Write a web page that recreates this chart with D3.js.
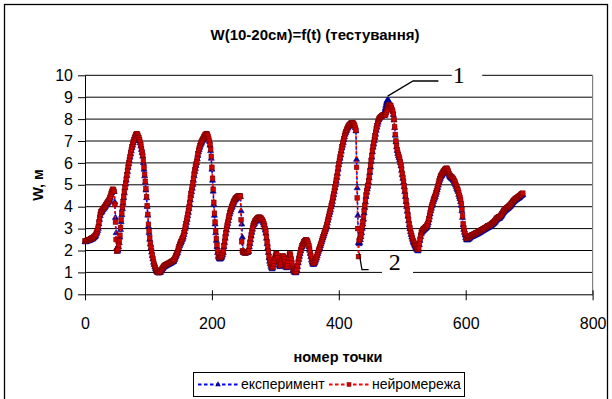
<!DOCTYPE html>
<html>
<head>
<meta charset="utf-8">
<script src="https://cdn.jsdelivr.net/npm/d3@7"></script>
<style>
  html, body { margin: 0; padding: 0; background: #fff; }
  svg { display: block; }
  text { font-family: "Liberation Sans", Arial, sans-serif; }
  text.callout { font-family: "Liberation Serif", "Times New Roman", serif; }
</style>
</head>
<body>
<div id="chart"></div>
<script>
// chart title / axis titles / legend
const title = 'W(10-20см)=f(t) (тестування)';
const xTitle = 'номер точки';
const yTitle = 'W, м';
const seriesNames = ['експеримент', 'нейромережа'];

// ticks
const xTicks = [0, 200, 400, 600, 800];
const yTicks = [0, 1, 2, 3, 4, 5, 6, 7, 8, 9, 10];

// експеримент (point 0..690)
const experiment = [
  2.40,2.38,2.42,2.41,2.43,2.43,2.45,2.44,2.47,2.48,
  2.50,2.52,2.51,2.55,2.58,2.60,2.63,2.67,2.75,2.82,
  2.90,3.00,3.20,3.40,3.58,3.70,3.74,3.78,3.85,3.88,
  3.92,3.95,4.00,4.05,4.10,4.12,4.16,4.20,4.25,4.32,
  4.40,4.52,4.62,4.70,4.72,4.74,4.68,4.20,3.50,2.80,
  2.10,1.95,2.00,2.15,2.35,2.60,2.95,3.30,3.62,3.90,
  4.15,4.40,4.62,4.85,5.02,5.20,5.40,5.60,5.78,5.95,
  6.10,6.25,6.40,6.55,6.68,6.80,6.90,7.00,7.08,7.15,
  7.20,7.25,7.28,7.25,7.18,7.10,7.00,6.90,6.76,6.60,
  6.45,6.30,6.00,5.70,5.40,5.10,4.75,4.40,4.00,3.60,
  3.10,2.80,2.50,2.28,2.10,1.92,1.75,1.60,1.45,1.35,
  1.25,1.17,1.10,1.04,1.00,0.98,0.97,0.97,0.98,1.00,
  1.05,1.10,1.15,1.18,1.22,1.25,1.27,1.28,1.30,1.32,
  1.33,1.35,1.36,1.38,1.40,1.41,1.43,1.45,1.46,1.48,
  1.50,1.56,1.63,1.70,1.77,1.84,1.90,2.00,2.10,2.20,
  2.27,2.33,2.40,2.47,2.53,2.60,2.72,2.85,3.00,3.13,
  3.27,3.40,3.57,3.73,3.90,4.10,4.30,4.50,4.67,4.83,
  5.00,5.20,5.40,5.60,5.73,5.87,6.00,6.17,6.33,6.50,
  6.60,6.70,6.80,6.87,6.93,7.00,7.05,7.10,7.15,7.20,
  7.25,7.30,7.30,7.26,7.20,7.10,6.98,6.80,6.55,6.20,
  5.70,5.20,4.70,4.10,3.60,3.20,2.80,2.45,2.15,1.90,
  1.72,1.65,1.60,1.60,1.62,1.66,1.72,1.80,1.90,2.15,
  2.35,2.55,2.75,2.92,3.08,3.22,3.35,3.50,3.65,3.75,
  3.85,3.93,4.00,4.08,4.15,4.22,4.28,4.32,4.35,4.38,
  4.40,4.42,4.44,4.45,4.46,4.45,3.80,3.20,2.60,2.00,
  1.90,1.88,1.88,1.87,1.88,1.90,1.90,1.92,1.95,2.15,
  2.30,2.48,2.65,2.82,2.96,3.08,3.16,3.22,3.28,3.32,
  3.36,3.40,3.43,3.45,3.46,3.47,3.46,3.44,3.40,3.36,
  3.32,3.25,3.15,3.05,2.92,2.78,2.55,2.30,2.10,1.90,
  1.65,1.50,1.38,1.27,1.20,1.15,1.20,1.32,1.45,1.58,
  1.70,1.78,1.80,1.72,1.60,1.45,1.32,1.25,1.30,1.42,
  1.55,1.65,1.70,1.66,1.55,1.42,1.30,1.22,1.20,1.30,
  1.45,1.60,1.75,1.80,1.72,1.55,1.38,1.22,1.10,1.04,
  1.00,0.98,0.97,1.00,1.10,1.25,1.42,1.58,1.72,1.85,
  1.97,2.07,2.15,2.22,2.28,2.33,2.37,2.40,2.42,2.43,
  2.40,2.35,2.27,2.15,2.00,1.85,1.70,1.55,1.45,1.38,
  1.35,1.38,1.43,1.50,1.57,1.65,1.75,1.85,1.95,2.03,
  2.10,2.20,2.28,2.38,2.47,2.56,2.65,2.74,2.83,2.92,
  3.00,3.12,3.24,3.37,3.50,3.62,3.73,3.85,3.98,4.10,
  4.23,4.38,4.53,4.68,4.84,5.00,5.15,5.32,5.50,5.70,
  5.90,6.05,6.20,6.35,6.52,6.67,6.80,6.92,7.05,7.18,
  7.30,7.38,7.45,7.52,7.58,7.63,7.67,7.70,7.73,7.76,
  7.78,7.80,7.80,7.78,7.74,7.68,7.60,7.45,6.15,4.85,
  3.60,2.35,2.30,2.35,2.48,2.62,2.80,3.00,3.20,3.42,
  3.70,3.95,4.20,4.45,4.65,4.80,4.92,5.10,5.30,5.55,
  5.80,6.05,6.25,6.50,6.70,6.85,7.00,7.15,7.30,7.48,
  7.62,7.75,7.85,7.95,8.02,8.08,8.10,8.12,8.13,8.15,
  8.18,8.25,8.35,8.48,8.62,8.75,8.83,8.86,8.85,8.80,
  8.72,8.65,8.58,8.50,8.42,8.35,8.20,7.95,7.60,7.25,
  6.95,6.72,6.55,6.42,6.32,6.22,6.12,6.00,5.85,5.65,
  5.45,5.28,5.10,4.90,4.68,4.45,4.22,4.00,3.78,3.55,
  3.35,3.15,2.98,2.85,2.72,2.60,2.50,2.40,2.33,2.27,
  2.20,2.14,2.08,2.03,2.00,1.97,2.05,2.25,2.45,2.62,
  2.75,2.82,2.86,2.90,2.92,2.95,2.98,3.00,3.03,3.08,
  3.15,3.25,3.38,3.52,3.66,3.80,3.92,4.02,4.12,4.22,
  4.30,4.38,4.45,4.55,4.65,4.75,4.86,4.98,5.10,5.20,
  5.28,5.35,5.40,5.45,5.50,5.55,5.58,5.62,5.65,5.67,
  5.68,5.65,5.58,5.50,5.42,5.36,5.33,5.30,5.28,5.25,
  5.22,5.18,5.12,5.05,4.98,4.90,4.82,4.75,4.68,4.55,
  4.45,4.35,4.22,4.05,3.80,3.50,3.15,2.95,2.82,2.70,
  2.58,2.50,2.47,2.48,2.50,2.52,2.55,2.57,2.60,2.62,
  2.63,2.64,2.66,2.67,2.68,2.70,2.72,2.73,2.74,2.76,
  2.78,2.80,2.80,2.82,2.85,2.87,2.88,2.90,2.92,2.93,
  2.95,2.97,2.98,3.00,3.02,3.04,3.05,3.07,3.08,3.10,
  3.12,3.15,3.17,3.20,3.22,3.25,3.28,3.32,3.36,3.40,
  3.42,3.44,3.45,3.46,3.48,3.52,3.56,3.60,3.65,3.70,
  3.74,3.78,3.80,3.83,3.86,3.88,3.90,3.92,3.95,3.98,
  4.00,4.04,4.08,4.12,4.16,4.20,4.22,4.25,4.28,4.30,
  4.32,4.34,4.36,4.38,4.40,4.42,4.45,4.48,4.50,4.52,
  4.55
];

// нейромережа (point 0..690)
const network = [
  2.44,2.42,2.45,2.46,2.47,2.48,2.49,2.50,2.52,2.53,
  2.55,2.57,2.57,2.60,2.63,2.66,2.69,2.74,2.82,2.90,
  2.98,3.10,3.30,3.50,3.66,3.76,3.80,3.84,3.90,3.93,
  3.97,4.00,4.05,4.10,4.15,4.18,4.22,4.27,4.33,4.40,
  4.48,4.58,4.68,4.76,4.80,4.78,4.70,4.10,3.30,2.50,
  1.98,2.00,2.08,2.25,2.45,2.70,3.05,3.40,3.70,3.98,
  4.22,4.46,4.68,4.90,5.08,5.26,5.46,5.66,5.84,6.00,
  6.16,6.30,6.46,6.60,6.74,6.86,6.96,7.06,7.14,7.22,
  7.28,7.32,7.34,7.30,7.22,7.14,7.05,6.95,6.82,6.66,
  6.50,6.35,6.10,5.80,5.48,5.16,4.82,4.46,4.05,3.65,
  3.20,2.88,2.58,2.34,2.15,1.97,1.80,1.64,1.50,1.38,
  1.28,1.20,1.12,1.06,1.02,1.00,0.99,1.00,1.02,1.05,
  1.10,1.15,1.20,1.24,1.28,1.31,1.33,1.34,1.36,1.38,
  1.39,1.41,1.42,1.44,1.46,1.47,1.49,1.51,1.52,1.54,
  1.57,1.62,1.69,1.76,1.83,1.90,1.97,2.07,2.17,2.27,
  2.34,2.40,2.46,2.53,2.60,2.67,2.80,2.93,3.08,3.22,
  3.36,3.50,3.66,3.83,4.00,4.20,4.40,4.60,4.76,4.92,
  5.10,5.30,5.50,5.68,5.82,5.95,6.08,6.25,6.42,6.58,
  6.68,6.78,6.88,6.95,7.00,7.06,7.12,7.18,7.22,7.27,
  7.30,7.34,7.33,7.28,7.22,7.12,7.00,6.85,6.62,6.30,
  5.80,5.30,4.80,4.20,3.70,3.30,2.90,2.55,2.25,1.98,
  1.80,1.72,1.68,1.67,1.70,1.74,1.80,1.88,1.98,2.22,
  2.42,2.62,2.82,3.00,3.16,3.30,3.43,3.58,3.72,3.82,
  3.92,4.00,4.07,4.15,4.22,4.28,4.34,4.38,4.41,4.44,
  4.46,4.48,4.49,4.50,4.50,4.48,3.40,2.40,1.98,1.93,
  1.92,1.90,1.90,1.89,1.90,1.92,1.93,1.95,1.98,2.20,
  2.38,2.56,2.73,2.90,3.03,3.15,3.23,3.30,3.35,3.39,
  3.42,3.46,3.49,3.51,3.52,3.52,3.51,3.49,3.46,3.42,
  3.38,3.32,3.22,3.12,3.00,2.85,2.62,2.38,2.18,1.97,
  1.72,1.56,1.44,1.33,1.26,1.22,1.27,1.39,1.52,1.65,
  1.76,1.84,1.86,1.78,1.66,1.51,1.38,1.31,1.36,1.48,
  1.61,1.71,1.76,1.72,1.61,1.48,1.36,1.28,1.26,1.36,
  1.51,1.66,1.81,1.86,1.78,1.61,1.44,1.28,1.16,1.10,
  1.06,1.03,1.02,1.05,1.16,1.31,1.48,1.64,1.78,1.91,
  2.03,2.13,2.21,2.28,2.34,2.39,2.43,2.46,2.48,2.48,
  2.46,2.41,2.33,2.21,2.06,1.91,1.76,1.61,1.51,1.44,
  1.41,1.44,1.49,1.56,1.63,1.71,1.81,1.91,2.01,2.09,
  2.16,2.26,2.34,2.44,2.53,2.62,2.71,2.80,2.89,2.98,
  3.06,3.18,3.30,3.43,3.56,3.68,3.79,3.91,4.04,4.16,
  4.30,4.45,4.60,4.75,4.91,5.07,5.22,5.40,5.58,5.78,
  5.97,6.12,6.27,6.42,6.58,6.73,6.86,6.98,7.11,7.24,
  7.35,7.43,7.50,7.57,7.63,7.68,7.72,7.75,7.78,7.81,
  7.83,7.84,7.83,7.81,7.77,7.70,7.62,7.50,5.80,4.40,
  3.00,1.72,2.45,2.50,2.60,2.74,2.92,3.12,3.32,3.55,
  3.82,4.06,4.30,4.54,4.72,4.86,4.98,5.18,5.38,5.62,
  5.88,6.12,6.32,6.56,6.76,6.92,7.08,7.24,7.40,7.56,
  7.70,7.82,7.92,8.00,8.05,8.08,8.10,8.12,8.15,8.18,
  8.20,8.20,8.18,8.17,8.20,8.30,8.42,8.52,8.60,8.64,
  8.66,8.64,8.60,8.52,8.44,8.36,8.22,7.98,7.64,7.30,
  7.00,6.78,6.60,6.47,6.37,6.27,6.17,6.05,5.90,5.72,
  5.52,5.34,5.16,4.96,4.74,4.51,4.28,4.06,3.84,3.62,
  3.42,3.22,3.05,2.92,2.79,2.67,2.57,2.47,2.40,2.34,
  2.27,2.21,2.15,2.10,2.07,2.05,2.12,2.32,2.52,2.70,
  2.83,2.90,2.94,2.98,3.00,3.03,3.06,3.08,3.11,3.16,
  3.23,3.33,3.46,3.60,3.74,3.88,4.00,4.10,4.20,4.30,
  4.38,4.46,4.53,4.63,4.73,4.83,4.94,5.06,5.18,5.28,
  5.36,5.43,5.48,5.53,5.58,5.63,5.66,5.70,5.73,5.75,
  5.76,5.73,5.66,5.58,5.50,5.44,5.41,5.38,5.36,5.33,
  5.30,5.26,5.20,5.13,5.06,4.98,4.90,4.83,4.76,4.63,
  4.53,4.43,4.30,4.13,3.88,3.58,3.23,3.03,2.90,2.78,
  2.66,2.58,2.55,2.56,2.58,2.60,2.63,2.65,2.68,2.70,
  2.71,2.72,2.74,2.75,2.76,2.78,2.80,2.81,2.82,2.84,
  2.86,2.88,2.88,2.90,2.93,2.95,2.96,2.98,3.00,3.01,
  3.03,3.05,3.06,3.08,3.10,3.12,3.13,3.15,3.16,3.18,
  3.20,3.23,3.25,3.28,3.30,3.33,3.36,3.40,3.44,3.48,
  3.50,3.52,3.53,3.54,3.56,3.60,3.64,3.68,3.73,3.78,
  3.82,3.86,3.88,3.91,3.94,3.96,3.98,4.00,4.03,4.06,
  4.08,4.12,4.16,4.20,4.24,4.28,4.30,4.33,4.36,4.38,
  4.40,4.42,4.44,4.46,4.48,4.50,4.53,4.56,4.58,4.60,
  4.62
];

// annotation callouts: [point, elbow, end] in data units, label anchor
const callouts = [
  { label: '1', path: [[477, 9.05], [517, 9.74], [557, 9.74]], at: [589, 9.66], box: [578, 626, 10.42, 9.5] },
  { label: '2', path: [[432, 1.89], [436.5, 1.13], [447, 1.13]], at: [488, 1.11], box: [468, 517, 1.89, 0.84] }
];

const config = {
  width: 612,
  height: 399,
  plot: { left: 85, right: 592.6, top: 75.3, bottom: 294.3 },
  stroke: { grid: '#000', frame: '#808080' },
  blue: { line: '#0000ff', marker: '#000099' },
  red: { line: '#ff0000', fill: '#d00000', edge: '#7a0000' }
};

const svg = d3.select('#chart')
  .append('svg')
  .attr('width', config.width)
  .attr('height', config.height);

// outer frame
svg.append('rect')
  .attr('x', 4.5).attr('y', 4.5)
  .attr('width', 603).attr('height', 420)
  .attr('fill', '#fff')
  .attr('stroke', '#000')
  .attr('stroke-width', 1.3);

const x = d3.scaleLinear().domain([0, 800]).range([config.plot.left, config.plot.right]);
const y = d3.scaleLinear().domain([0, 10]).range([config.plot.bottom, config.plot.top]);

// title
svg.append('text')
  .text(title)
  .attr('x', 315).attr('y', 40)
  .attr('text-anchor', 'middle')
  .attr('font-size', 15)
  .attr('font-weight', 'bold');

// gridlines
svg.append('g')
  .selectAll('line')
  .data(yTicks.filter(d => d > 0))
  .enter()
  .append('line')
  .attr('x1', x(0)).attr('x2', x(800))
  .attr('y1', d => y(d)).attr('y2', d => y(d))
  .attr('stroke', config.stroke.grid)
  .attr('stroke-width', 1);

// right frame of plot area
svg.append('line')
  .attr('x1', x(800)).attr('x2', x(800))
  .attr('y1', y(10)).attr('y2', y(0))
  .attr('stroke', config.stroke.frame)
  .attr('stroke-width', 1.2);

// x axis
const xAxis = svg.append('g')
  .attr('transform', `translate(0,${y(0)})`)
  .call(d3.axisBottom(x).tickValues(xTicks).tickSize(6).tickPadding(17).tickSizeOuter(0));
xAxis.selectAll('.tick line').attr('y1', -4).attr('stroke', '#000');
xAxis.select('.domain').attr('stroke', '#000');
xAxis.selectAll('.tick text')
  .style('font-family', '"Liberation Sans", Arial, sans-serif')
  .style('font-size', '16px')
  .attr('fill', '#000');

// y axis
const yAxis = svg.append('g')
  .attr('transform', `translate(${x(0)},0)`)
  .call(d3.axisLeft(y).tickValues(yTicks).tickSize(7).tickPadding(5).tickSizeOuter(0));
yAxis.select('.domain').attr('stroke', '#000');
yAxis.selectAll('.tick line').attr('stroke', '#000');
yAxis.selectAll('.tick text')
  .style('font-family', '"Liberation Sans", Arial, sans-serif')
  .style('font-size', '16px')
  .attr('fill', '#000');

// axis titles
svg.append('text')
  .text(xTitle)
  .attr('x', 338).attr('y', 362)
  .attr('text-anchor', 'middle')
  .attr('font-size', 14.5)
  .attr('font-weight', 'bold');

svg.append('text')
  .text(yTitle)
  .attr('transform', 'translate(43,185) rotate(-90)')
  .attr('text-anchor', 'middle')
  .attr('font-size', 14.5)
  .attr('font-weight', 'bold');

// series
const line = d3.line().x((d, i) => x(i)).y(d => y(d));
const triangle = d3.symbol().type(d3.symbolTriangle).size(16);
const sq = 4.6;

svg.append('path')
  .datum(experiment)
  .attr('d', line)
  .attr('fill', 'none')
  .attr('stroke', config.blue.line)
  .attr('stroke-width', 1.6)
  .attr('stroke-dasharray', '2.5,2.5');

svg.append('g')
  .selectAll('path')
  .data(experiment)
  .enter()
  .append('path')
  .attr('d', triangle)
  .attr('transform', (d, i) => `translate(${x(i)},${y(d)})`)
  .attr('fill', config.blue.marker)
  .attr('stroke', config.blue.marker)
  .attr('stroke-width', 0.6);

svg.append('path')
  .datum(network)
  .attr('d', line)
  .attr('fill', 'none')
  .attr('stroke', config.red.line)
  .attr('stroke-width', 1.6)
  .attr('stroke-dasharray', '2.5,2.5');

svg.append('g')
  .selectAll('rect')
  .data(network)
  .enter()
  .append('rect')
  .attr('x', (d, i) => x(i) - sq / 2)
  .attr('y', d => y(d) - sq / 2)
  .attr('width', sq).attr('height', sq)
  .attr('fill', config.red.fill)
  .attr('stroke', config.red.edge)
  .attr('stroke-width', 0.6);

// callouts "1", "2"
const callout = svg.append('g').selectAll('g')
  .data(callouts)
  .enter()
  .append('g');

callout.append('rect')
  .attr('x', d => x(d.box[0]))
  .attr('width', d => x(d.box[1]) - x(d.box[0]))
  .attr('y', d => y(d.box[2]))
  .attr('height', d => y(d.box[3]) - y(d.box[2]))
  .attr('fill', '#fff');

callout.append('path')
  .attr('d', d => d3.line().x(p => x(p[0])).y(p => y(p[1]))(d.path))
  .attr('fill', 'none')
  .attr('stroke', '#000')
  .attr('stroke-width', 1.3);

callout.append('text')
  .attr('class', 'callout')
  .text(d => d.label)
  .attr('x', d => x(d.at[0]))
  .attr('y', d => y(d.at[1]))
  .attr('text-anchor', 'middle')
  .attr('font-size', 24);

// legend
const legend = svg.append('g').attr('transform', 'translate(193,372)');
legend.append('rect')
  .attr('x', 0.5).attr('y', 0.5)
  .attr('width', 271).attr('height', 24)
  .attr('fill', '#fff')
  .attr('stroke', '#000')
  .attr('stroke-width', 1);

const items = [
  { name: seriesNames[0], color: config.blue.line, x: 5 },
  { name: seriesNames[1], color: config.red.line, x: 136 }
];
const item = legend.selectAll('.item')
  .data(items)
  .enter()
  .append('g')
  .attr('class', 'item')
  .attr('transform', d => `translate(${d.x},12.5)`);

item.append('line')
  .attr('x1', 0).attr('x2', 40)
  .attr('stroke', d => d.color)
  .attr('stroke-width', 2)
  .attr('stroke-dasharray', '3.5,2.5');

item.filter((d, i) => i === 0).append('path')
  .attr('d', d3.symbol().type(d3.symbolTriangle).size(14))
  .attr('transform', 'translate(20,0)')
  .attr('fill', config.blue.marker);

item.filter((d, i) => i === 1).append('rect')
  .attr('x', 18).attr('y', -2).attr('width', 4).attr('height', 4)
  .attr('fill', config.red.fill)
  .attr('stroke', config.red.edge)
  .attr('stroke-width', 0.5);

item.append('text')
  .text(d => d.name)
  .attr('x', 43).attr('y', 4.5)
  .attr('font-size', 14);
</script>
</body>
</html>
